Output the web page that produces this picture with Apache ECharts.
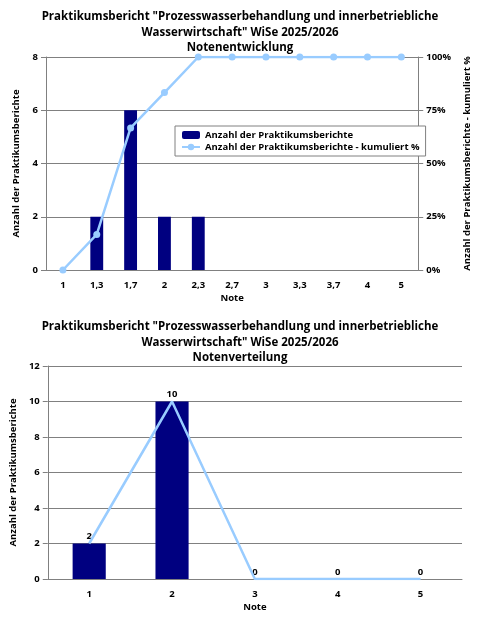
<!DOCTYPE html>
<html>
<head>
<meta charset="utf-8">
<script src="https://cdn.jsdelivr.net/npm/echarts@6/dist/echarts.min.js"></script>
<style>html,body,#c{margin:0;width:480px;height:619px;background:#fff}</style>
</head>
<body>
<div id="c"></div>
<script>
// Notenentwicklung
const notenFein = ['1', '1,3', '1,7', '2', '2,3', '2,7', '3', '3,3', '3,7', '4', '5'];
const anzahlFein = [0, 2, 6, 2, 2, 0, 0, 0, 0, 0, 0];
const kumuliert = [0, 16.7, 66.7, 83.3, 100, 100, 100, 100, 100, 100, 100];
// Notenverteilung
const notenGrob = ['1', '2', '3', '4', '5'];
const anzahlGrob = [2, 10, 0, 0, 0];

const F = 'Open Sans';
const dark = '#000080', light = '#99ccff';
const txt = { fontFamily: F, fontWeight: 'bold', fontSize: 9.5, color: '#000' };
const titleText = 'Praktikumsbericht "Prozesswasserbehandlung und innerbetriebliche\nWasserwirtschaft" WiSe 2025/2026\n';
const titleStyle = { fontFamily: F, fontWeight: 'bold', fontSize: 11.5, lineHeight: 15.5, color: '#000' };
const axisLine = { show: true, lineStyle: { color: '#808080' } };
const split = { show: true, lineStyle: { color: '#808080' } };

const chart = echarts.init(document.getElementById('c'));
chart.setOption({
  animation: false,
  title: [
    { text: titleText + 'Notenentwicklung', left: 'center', top: 4, textStyle: titleStyle },
    { text: titleText + 'Notenverteilung', left: 'center', top: 314, textStyle: titleStyle }
  ],
  legend: {
    top: 126, left: 175, orient: 'vertical', itemGap: 2,
    backgroundColor: '#fff', borderColor: '#808080', borderWidth: 1, padding: [4, 6],
    itemWidth: 18, itemHeight: 8, textStyle: txt,
    data: ['Anzahl der Praktikumsberichte', 'Anzahl der Praktikumsberichte - kumuliert %']
  },
  grid: [
    { left: 46, right: 55, top: 57, height: 213 },
    { left: 46, right: 18, top: 366, height: 213 }
  ],
  xAxis: [
    { type: 'category', gridIndex: 0, data: notenFein, name: 'Note', nameLocation: 'middle', nameGap: 23,
      nameTextStyle: txt, axisLabel: Object.assign({ margin: 10 }, txt), axisLine: axisLine,
      axisTick: { lineStyle: { color: '#808080' } } },
    { type: 'category', gridIndex: 1, data: notenGrob, name: 'Note', nameLocation: 'middle', nameGap: 23,
      nameTextStyle: txt, axisLabel: Object.assign({ margin: 10 }, txt), axisLine: axisLine,
      axisTick: { lineStyle: { color: '#808080' } } }
  ],
  yAxis: [
    { type: 'value', gridIndex: 0, min: 0, max: 8, interval: 2, name: 'Anzahl der Praktikumsberichte',
      nameLocation: 'middle', nameGap: 24, nameTextStyle: txt, axisLabel: txt, axisLine: axisLine,
      axisTick: { show: true }, splitLine: split },
    { type: 'value', gridIndex: 0, min: 0, max: 100, interval: 25, position: 'right',
      name: 'Anzahl der Praktikumsberichte - kumuliert %', nameLocation: 'middle', nameGap: 43,
      nameRotate: 90, nameTextStyle: txt, axisLabel: Object.assign({ formatter: '{value}%' }, txt),
      axisLine: axisLine, axisTick: { show: true }, splitLine: { show: false } },
    { type: 'value', gridIndex: 1, min: 0, max: 12, interval: 2, name: 'Anzahl der Praktikumsberichte',
      nameLocation: 'middle', nameGap: 28, nameTextStyle: txt, axisLabel: txt, axisLine: axisLine,
      axisTick: { show: true }, splitLine: split }
  ],
  series: [
    { name: 'Anzahl der Praktikumsberichte', type: 'bar', xAxisIndex: 0, yAxisIndex: 0,
      data: anzahlFein, barWidth: '38%', itemStyle: { color: dark } },
    { name: 'Anzahl der Praktikumsberichte - kumuliert %', type: 'line', xAxisIndex: 0, yAxisIndex: 1,
      data: kumuliert, symbol: 'circle', symbolSize: 7, lineStyle: { color: light, width: 2.5 },
      itemStyle: { color: light } },
    { type: 'bar', xAxisIndex: 1, yAxisIndex: 2, data: anzahlGrob, barWidth: '40%',
      itemStyle: { color: dark }, label: Object.assign({ show: true, position: 'top', distance: 2 }, txt) },
    { type: 'line', xAxisIndex: 1, yAxisIndex: 2, data: anzahlGrob, symbol: 'none',
      lineStyle: { color: light, width: 2.5 }, z: 3 }
  ]
});
</script>
</body>
</html>
